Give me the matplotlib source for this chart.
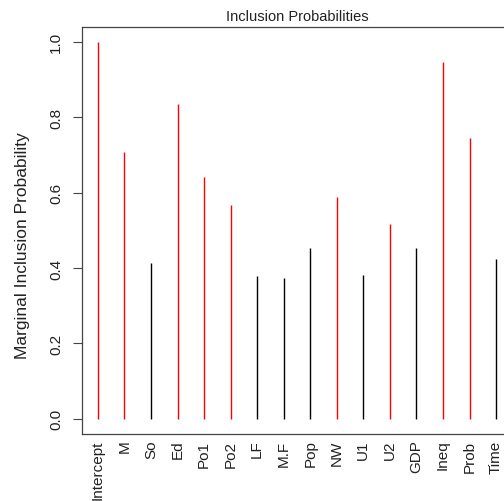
import matplotlib
matplotlib.use("Agg")
import matplotlib.pyplot as plt

plt.rcParams['font.family'] = ['Liberation Sans', 'DejaVu Sans']

variables = ['Intercept', 'M', 'So', 'Ed', 'Po1', 'Po2', 'LF', 'M.F', 'Pop',
             'NW', 'U1', 'U2', 'GDP', 'Ineq', 'Prob', 'Time']
probs = [1.0, 0.707, 0.412, 0.835, 0.642, 0.566, 0.379, 0.373, 0.453,
         0.589, 0.382, 0.516, 0.453, 0.946, 0.745, 0.423]

n = len(variables)
x = list(range(1, n + 1))
colors = ['red' if p > 0.5 else 'black' for p in probs]

fig = plt.figure(figsize=(5.04, 5.02), dpi=100)
# right edge lies outside the figure, like the cropped reference
ax = fig.add_axes([82 / 504, (502 - 435) / 502, 430 / 504, 407.5 / 502])

ax.vlines(x, 0, probs, colors=colors, linewidth=1.0)

ax.set_xlim(1 - 0.04 * (n - 1), n + 0.04 * (n - 1))
ax.set_ylim(-0.04, 1.04)

ax.set_xticks(x)
ax.set_xticklabels(variables, rotation=90, fontsize=11, color='#222222')
ax.tick_params(axis='x', length=0, pad=4)

ax.set_yticks([0.0, 0.2, 0.4, 0.6, 0.8, 1.0])
ax.set_yticklabels(['0.0', '0.2', '0.4', '0.6', '0.8', '1.0'], rotation=90,
                   va='center', fontsize=11, color='#222222')
ax.tick_params(axis='y', length=6.5, width=0.8, color='#444444', pad=7)

for s in ax.spines.values():
    s.set_color('#444444')
    s.set_linewidth(0.9)

ax.set_ylabel('Marginal Inclusion Probability', fontsize=12.5, color='#222222')
ax.yaxis.set_label_coords(-0.12, 0.464)
ax.set_title('Inclusion Probabilities', fontsize=10.5, color='#222222', pad=5)

fig.savefig('out.png', dpi=100)
